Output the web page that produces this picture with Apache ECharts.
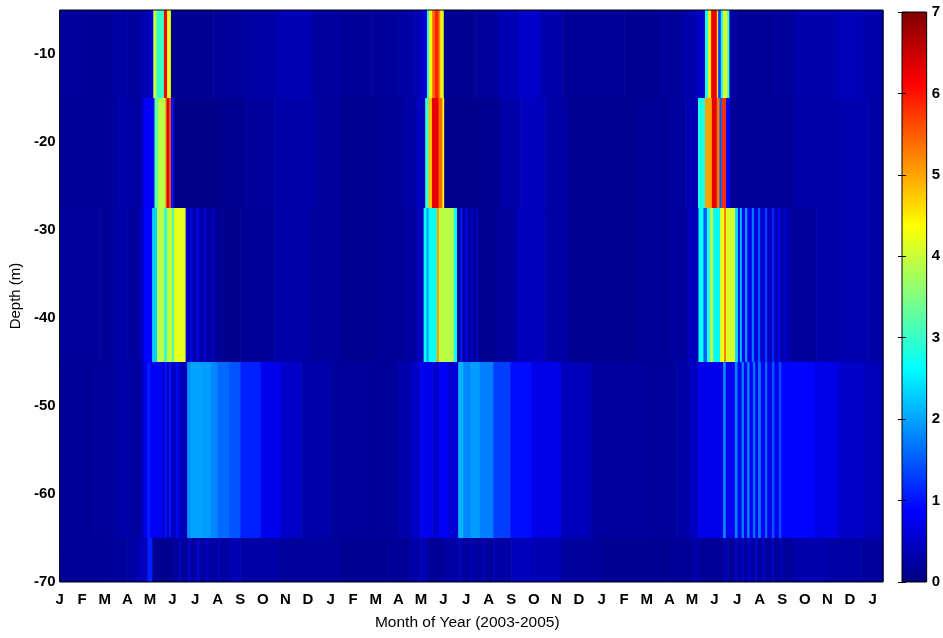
<!DOCTYPE html>
<html>
<head>
<meta charset="utf-8">
<script src="https://cdn.jsdelivr.net/npm/echarts@6/dist/echarts.min.js"></script>
<style>
html,body{margin:0;padding:0;background:#fff;}
#chart{width:943px;height:638px;}
</style>
</head>
<body>
<div id="chart"></div>
<script>
// ---- tick labels / axes data ----
const monthLabels = ['J','F','M','A','M','J','J','A','S','O','N','D',
                     'J','F','M','A','M','J','J','A','S','O','N','D',
                     'J','F','M','A','M','J','J','A','S','O','N','D','J'];
const monthEnd = 36.46;                 // record ends a little after Jan 2006
const depthEdges = [-5, -15, -27.5, -45, -65, -70];
const colorRange = [0, 7];

// ---- each depth layer: [start month (0 = Jan 2003), value] steps ----
const layer1 = [
  [0,0.2],[1.2,0.15],[2.3,0.25],[3.0,0.2],[3.6,0.35],[4.0,0.6],
  [4.15,4.0],[4.29,3.0],[4.62,6.2],[4.76,4.2],[4.93,0.12],
  [6.8,0.18],[8.3,0.25],[9.6,0.35],[11.2,0.22],[12.4,0.15],[13.8,0.18],[15.0,0.25],[15.7,0.35],[16.0,0.55],
  [16.27,2.8],[16.36,4.4],[16.5,5.4],[16.62,5.9],[16.78,5.2],[16.86,4.2],[17.01,0.12],
  [18.4,0.18],[19.4,0.35],[20.3,0.5],[21.3,0.3],[22.3,0.15],[25.0,0.12],[26.5,0.18],[27.6,0.3],[28.2,0.5],
  [28.58,2.8],[28.72,4.5],[28.85,6.3],[29.1,4.6],[29.16,1.3],[29.28,2.8],[29.38,4.2],[29.56,3.0],[29.66,0.25],
  [30.0,0.15],[31.5,0.2],[32.6,0.3],[34.4,0.38],[35.6,0.3]
];
const layer2 = [
  [0,0.15],[2.0,0.2],[2.6,0.3],[3.1,0.22],[3.6,0.45],[3.72,0.85],
  [4.2,3.2],[4.35,3.9],[4.69,5.3],[4.74,6.4],[4.84,5.6],[4.93,1.0],[5.05,0.06],
  [7.0,0.1],[8.2,0.2],[9.5,0.28],[11.3,0.2],[12.5,0.12],[14.0,0.15],[15.2,0.25],[15.8,0.45],
  [16.19,3.0],[16.34,4.8],[16.49,6.3],[16.78,5.4],[16.95,4.4],[17.03,0.08],
  [18.5,0.1],[19.5,0.28],[20.4,0.42],[21.5,0.25],[22.5,0.12],[25.5,0.15],[27.0,0.22],[27.7,0.35],
  [28.27,2.8],[28.58,5.0],[28.88,6.3],[29.1,5.3],[29.22,1.5],[29.32,5.8],[29.51,0.8],[29.69,0.15],
  [31.0,0.15],[32.5,0.28],[34.5,0.32],[35.8,0.25]
];
const layer3 = [
  [0,0.2],[1.8,0.15],[2.4,0.28],[3.0,0.2],[3.5,0.4],
  [3.72,0.9],[4.1,2.3],[4.32,3.9],[4.62,3.0],[4.76,4.0],[4.98,3.0],[5.06,4.2],
  [5.58,0.7],[5.68,0.25],[5.78,0.7],[5.9,0.25],[6.05,0.6],[6.2,0.2],[6.35,0.5],[6.5,0.18],[6.7,0.4],[6.85,0.15],[7.2,0.08],
  [8.0,0.15],[9.5,0.28],[11.0,0.2],[12.5,0.12],[14.0,0.15],[15.2,0.22],[15.8,0.4],
  [16.12,2.7],[16.24,2.0],[16.34,2.7],[16.7,5.0],[16.8,3.9],[17.45,2.7],[17.6,0.15],
  [17.74,1.0],[17.83,0.2],[17.95,0.7],[18.05,0.18],[18.2,0.5],[18.3,0.15],[18.45,0.4],[18.55,0.1],
  [19.3,0.2],[20.2,0.4],[21.5,0.25],[22.5,0.12],[25.5,0.15],[27.0,0.22],[27.8,0.4],
  [28.29,2.7],[28.51,1.5],[28.66,2.8],[28.81,4.0],[28.94,2.6],[29.25,4.3],[29.43,5.5],[29.5,4.1],
  [29.91,2.4],[30.04,0.9],[30.12,2.2],[30.21,0.85],[30.35,1.9],[30.45,0.75],[30.65,1.7],[30.75,0.65],
  [30.93,1.5],[31.02,0.55],[31.24,1.3],[31.33,0.45],[31.54,1.1],[31.64,0.35],[31.81,0.8],[31.9,0.3],
  [32.1,0.55],[32.2,0.25],[32.5,0.2],[33.5,0.28],[34.5,0.32],[35.8,0.25]
];
const layer4 = [
  [0,0.15],[1.5,0.2],[2.5,0.28],[3.2,0.2],[3.6,0.4],
  [3.72,0.75],[3.89,1.1],[4.0,0.8],[4.56,0.45],[4.65,1.0],[4.75,0.45],[4.85,1.0],[4.93,0.45],[5.15,0.9],[5.25,0.45],[5.44,0.35],
  [5.65,1.85],[5.8,2.0],[6.3,1.95],[6.7,1.8],[6.98,1.6],[7.5,1.45],[8.0,1.1],[8.9,0.75],[9.8,0.5],[10.7,0.3],
  [12.0,0.18],[14.0,0.18],[15.0,0.3],[15.6,0.5],
  [15.97,0.75],[16.5,0.55],[16.8,0.8],[17.2,0.6],[17.65,2.1],[17.88,1.8],[18.2,1.95],[18.6,1.75],[19.2,1.3],
  [19.96,0.95],[20.9,0.7],[22.2,0.4],[23.5,0.22],[26.0,0.18],[27.3,0.28],[27.9,0.45],
  [28.27,0.75],[29.38,1.8],[29.5,0.8],[29.9,1.8],[30.02,0.8],[30.2,1.8],[30.3,0.8],[30.45,1.8],[30.55,0.8],
  [30.7,1.7],[30.8,0.8],[30.93,1.7],[31.05,0.8],[31.24,1.6],[31.33,0.8],[31.55,1.5],[31.65,0.8],
  [31.85,1.4],[31.95,0.9],[33.4,0.7],[34.5,0.5],[35.6,0.38]
];
const layer5 = [
  [0,0.15],[2.0,0.18],[3.0,0.25],[3.5,0.4],[3.89,1.1],[4.1,0.15],[4.4,0.1],[5.0,0.2],[5.3,0.45],[5.4,0.18],
  [5.7,0.55],[5.8,0.2],[6.1,0.6],[6.2,0.22],[6.5,0.5],[6.6,0.22],[7.0,0.45],[7.1,0.22],[7.5,0.35],[8.0,0.25],
  [9.7,0.18],[12.5,0.12],[14.5,0.15],[15.5,0.28],
  [15.97,0.35],[16.3,0.15],[17.0,0.25],[17.7,0.45],[17.8,0.2],[18.2,0.45],[18.3,0.2],[18.7,0.4],[18.8,0.2],
  [19.2,0.35],[19.3,0.25],[20.0,0.4],[21.0,0.35],[22.2,0.2],[24.0,0.12],[27.0,0.15],[28.0,0.28],
  [28.4,0.15],[29.4,0.35],[29.6,0.15],[29.9,0.55],[30.0,0.2],[30.2,0.55],[30.3,0.2],[30.5,0.6],[30.6,0.2],
  [30.8,0.55],[30.9,0.2],[31.1,0.5],[31.2,0.2],[31.5,0.45],[31.6,0.2],[31.9,0.4],[32.0,0.2],
  [32.5,0.3],[34.0,0.25],[35.5,0.2]
];
const layers = [layer1, layer2, layer3, layer4, layer5];

// jet colour map, evenly spaced stops
const jet = ['#000080','#0000FF','#0080FF','#00FFFF','#80FF80','#FFFF00','#FF8000','#FF0000','#800000'];

// build cell table: [m0, m1, depthTop, depthBottom, value]
const cells = [];
layers.forEach((steps, li) => {
  steps.forEach((s, k) => {
    const end = k + 1 < steps.length ? steps[k + 1][0] : monthEnd;
    cells.push([s[0], end, depthEdges[li], depthEdges[li + 1], s[1]]);
  });
});

const FONT = "'Liberation Sans', Arial, Helvetica, sans-serif";
const chart = echarts.init(document.getElementById('chart'), null, {renderer: 'canvas'});

chart.setOption({
  backgroundColor: '#fff',
  animation: false,
  grid: [
    {left: 58, right: 60, top: 10, bottom: 56, show: true, z: 10,
     backgroundColor: 'transparent', borderColor: '#000', borderWidth: 1},
    {left: 902, width: 26, top: 12, bottom: 56, show: true, z: 10,
     backgroundColor: 'transparent', borderColor: '#000', borderWidth: 1}
  ],
  visualMap: {
    type: 'continuous', show: false, min: colorRange[0], max: colorRange[1],
    dimension: 4, seriesIndex: 0, inRange: {color: jet}
  },
  xAxis: [
    {gridIndex: 0, type: 'value', min: 0, max: monthEnd, interval: 1,
     name: 'Month of Year (2003-2005)', nameLocation: 'middle', nameGap: 33,
     nameTextStyle: {fontFamily: FONT, fontSize: 15.5, color: '#000', padding: [0, 8, 0, 0]},
     axisLine: {show: false}, axisTick: {show: false}, splitLine: {show: false},
     axisLabel: {fontFamily: FONT, fontSize: 15, fontWeight: 'bold', color: '#000', margin: 10,
       formatter: v => { const r = Math.round(v); return Math.abs(v - r) < 1e-6 && monthLabels[r] ? monthLabels[r] : ''; }}},
    {gridIndex: 1, type: 'value', min: 0, max: 1, show: false}
  ],
  yAxis: [
    {gridIndex: 0, type: 'value', min: -70, max: -5, interval: 10,
     name: 'Depth (m)', nameLocation: 'middle', nameGap: 36,
     nameTextStyle: {fontFamily: FONT, fontSize: 15, color: '#000'},
     axisLine: {show: false}, axisTick: {show: false}, splitLine: {show: false},
     axisLabel: {fontFamily: FONT, fontSize: 15, fontWeight: 'bold', color: '#000', margin: 4, showMaxLabel: false,
       formatter: v => (Math.abs(v % 10) < 1e-6 ? String(v) : '')}},
    {gridIndex: 1, type: 'value', min: colorRange[0], max: colorRange[1], interval: 1, position: 'right', z: 10,
     axisLine: {show: false}, splitLine: {show: false},
     axisTick: {show: true, inside: true, length: 4, lineStyle: {color: '#000'}},
     axisLabel: {fontFamily: FONT, fontSize: 15, fontWeight: 'bold', color: '#000', margin: 5}},
    {gridIndex: 1, type: 'value', min: colorRange[0], max: colorRange[1], interval: 1, position: 'left', z: 10,
     axisLine: {show: false}, splitLine: {show: false}, axisLabel: {show: false},
     axisTick: {show: true, inside: true, length: 4, lineStyle: {color: '#000'}}}
  ],
  series: [
    {
      type: 'custom', xAxisIndex: 0, yAxisIndex: 0, clip: true,
      dimensions: ['m0', 'm1', 'dTop', 'dBottom', 'value'],
      encode: {x: [0, 1], y: [2, 3]},
      data: cells,
      renderItem: (params, api) => {
        const p0 = api.coord([api.value(0), api.value(2)]);
        const p1 = api.coord([api.value(1), api.value(3)]);
        return {
          type: 'rect',
          shape: {x: p0[0], y: p0[1], width: p1[0] - p0[0] + 0.6, height: p1[1] - p0[1] + 0.6},
          style: {fill: api.visual('color'), stroke: null}
        };
      }
    },
    {
      type: 'custom', xAxisIndex: 1, yAxisIndex: 1, silent: true,
      data: [[0, 1, colorRange[0], colorRange[1]]],
      encode: {x: [0, 1], y: [2, 3]},
      renderItem: (params, api) => {
        const p0 = api.coord([api.value(0), api.value(3)]);
        const p1 = api.coord([api.value(1), api.value(2)]);
        return {
          type: 'rect',
          shape: {x: p0[0], y: p0[1], width: p1[0] - p0[0], height: p1[1] - p0[1]},
          style: {
            fill: new echarts.graphic.LinearGradient(0, 1, 0, 0,
              jet.map((c, i) => ({offset: i / (jet.length - 1), color: c}))),
            stroke: null
          }
        };
      }
    }
  ]
});
</script>
</body>
</html>
